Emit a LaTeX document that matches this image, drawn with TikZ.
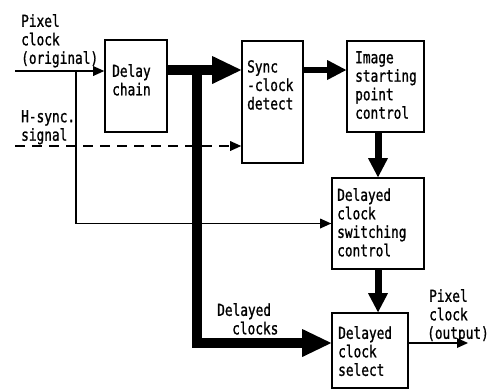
\documentclass[tikz,border=0pt]{standalone}
\usepackage{fontspec}
\newfontfamily\lblfont[FakeStretch=0.775,FakeBold=1.1]{DejaVu Sans Mono}
\usetikzlibrary{arrows.meta}
\begin{document}
\begin{tikzpicture}[x=1pt,y=-1pt,
  blk/.style={draw,line width=1.6pt,inner sep=0pt},
  lbl/.style={anchor=north west,inner sep=0pt,align=left,
    font={\lblfont\fontsize{16.5}{18.5}\selectfont}},
  thin/.style={line width=1.4pt},
  thinarrow/.style={thin,-{Triangle[length=11pt,width=10pt,line width=0pt]}},
  fatarrow/.style={line width=10pt,-{Triangle[length=29pt,width=28pt,line width=0pt]}},
  midarrow/.style={line width=7pt,-{Triangle[length=19pt,width=20pt,line width=0pt]}}]
\useasboundingbox (0,0) rectangle (494,389);
% blocks
\node[blk,minimum width=62pt,minimum height=92pt] (delay) at (136,86) {};
\node[blk,minimum width=61pt,minimum height=122pt] (sync) at (272.5,102) {};
\node[blk,minimum width=77pt,minimum height=91pt] (image) at (385.5,86.5) {};
\node[blk,minimum width=92pt,minimum height=91pt] (switch) at (378,223.5) {};
\node[blk,minimum width=76pt,minimum height=75pt] (select) at (370,350.5) {};
% block texts
\node[lbl] (tdelay) at (112,64) {Delay\\chain};
\node[lbl] (tsync) at (247,60) {Sync\\-clock\\detect};
\node[lbl] (timage) at (355,51) {Image\\starting\\point\\control};
\node[lbl] (tswitch) at (337,188) {Delayed\\clock\\switching\\control};
\node[lbl] (tselect) at (338,326) {Delayed\\clock\\select};
% outer labels
\node[lbl] (tpix) at (21,14) {Pixel\\clock\\(original)};
\node[lbl] (thsync) at (21,110) {H-sync.\\signal};
\node[lbl] (tdclk) at (217,303) {Delayed\\\hspace*{15pt}clocks};
\node[lbl] (tout) at (427,289) {\hspace*{2pt}Pixel\\\hspace*{2pt}clock\\(output)};
% coordinates
\coordinate (pin) at (15,71);
\coordinate (hin) at (15,146);
\coordinate (jthin) at (76,71);
\coordinate (jfat) at (197,70);
\coordinate (vx) at (378,0);
\coordinate (ysel) at (0,343);
\coordinate (pout) at (468,343);
% connectors
\draw[thinarrow] (pin) -- (pin -| delay.west);
\draw[thin] (jthin) |- (switch.west);
\draw[thinarrow] (jthin |- switch.west) -- (switch.west);
\draw[thinarrow,dash pattern=on 10pt off 7pt] (hin) -- (hin -| sync.west);
\draw[fatarrow] (jfat -| delay.east) -- (jfat -| sync.west);
\draw[line width=10pt] ([yshift=-5pt]jfat) -- (jfat |- ysel) -- ([xshift=-20pt]select.west |- ysel);
\draw[fatarrow] (jfat |- ysel) -- (select.west |- ysel);
\draw[midarrow,line width=6pt] (sync.east |- jfat) -- (image.west |- jfat);
\draw[midarrow] (image.south -| vx) -- (switch.north -| vx);
\draw[midarrow] (switch.south -| vx) -- (select.north -| vx);
\draw[thinarrow] (select.east |- pout) -- (pout);
\end{tikzpicture}
\end{document}
